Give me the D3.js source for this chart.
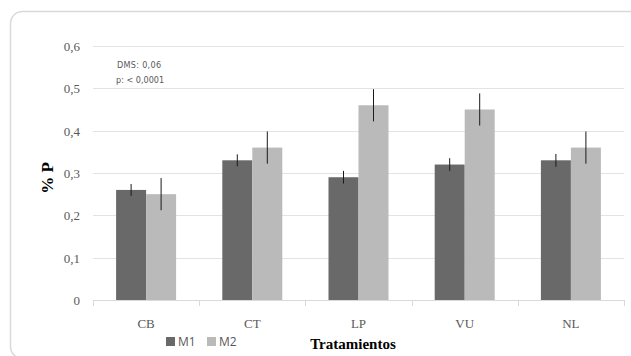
<!DOCTYPE html>
<html>
<head>
<meta charset="utf-8">
<script src="https://cdn.jsdelivr.net/npm/d3@7"></script>
<style>
  body { margin: 0; background: #fff; }
  svg { display: block; }
</style>
</head>
<body>
<svg id="chart" width="631" height="356"></svg>
<script>
var categories = ['CB', 'CT', 'LP', 'VU', 'NL']
var seriesNames = ['M1', 'M2']
var m1Values = [0.26, 0.33, 0.29, 0.32, 0.33]
var m2Values = [0.25, 0.36, 0.46, 0.45, 0.36]
var m1Errors = [0.014, 0.014, 0.015, 0.015, 0.015]
var m2Errors = [0.038, 0.038, 0.038, 0.038, 0.038]
var yTicks = [0, 0.1, 0.2, 0.3, 0.4, 0.5, 0.6]

var colors = { M1: '#696969', M2: '#bababa' }

var svg = d3.select('#chart')

// outer rounded frame (runs off the right and bottom edges)
svg.append('rect')
    .attr('x', 10.5).attr('y', 11.5)
    .attr('width', 640).attr('height', 347)
    .attr('rx', 12)
    .attr('fill', '#fff')
    .attr('stroke', '#d9d9d9')
    .attr('stroke-width', 1.5)

var plotLeft = 93, plotRight = 624, plotTop = 46, plotBottom = 300

var x = d3.scaleBand().domain(categories).range([plotLeft, plotRight])
var xInner = d3.scaleBand().domain(seriesNames).range([0, 60])
var y = d3.scaleLinear().domain([0, 0.6]).range([plotBottom, plotTop])

// gridlines
svg.selectAll('.grid')
    .data(yTicks.filter(d => d > 0))
    .join('line')
    .attr('x1', plotLeft).attr('x2', plotRight)
    .attr('y1', d => Math.round(y(d)) + 0.5)
    .attr('y2', d => Math.round(y(d)) + 0.5)
    .attr('stroke', '#e3e3e3')
    .attr('stroke-width', 1)

// y labels
svg.selectAll('.ylab')
    .data(yTicks)
    .join('text')
    .attr('x', 80)
    .attr('y', d => y(d) + 5)
    .attr('text-anchor', 'end')
    .attr('font-family', 'Liberation Serif')
    .attr('font-size', 13)
    .attr('fill', '#595959')
    .text(d => d === 0 ? '0' : d.toFixed(1).replace('.', ','))

// bars
var rows = []
categories.forEach((c, i) => {
    rows.push({ cat: c, s: 'M1', v: m1Values[i], e: m1Errors[i] })
    rows.push({ cat: c, s: 'M2', v: m2Values[i], e: m2Errors[i] })
})

var off = (x.bandwidth() - 60) / 2

svg.selectAll('.bar')
    .data(rows)
    .join('rect')
    .attr('x', d => x(d.cat) + off + xInner(d.s))
    .attr('y', d => y(d.v))
    .attr('width', xInner.bandwidth())
    .attr('height', d => plotBottom - y(d.v))
    .attr('fill', d => colors[d.s])

// error bars
svg.selectAll('.err')
    .data(rows)
    .join('line')
    .attr('x1', d => x(d.cat) + off + xInner(d.s) + xInner.bandwidth() / 2)
    .attr('x2', d => x(d.cat) + off + xInner(d.s) + xInner.bandwidth() / 2)
    .attr('y1', d => y(d.v + d.e))
    .attr('y2', d => y(d.v - d.e))
    .attr('stroke', '#1a1a1a')
    .attr('stroke-width', 1)

// x axis line and ticks
svg.append('line')
    .attr('x1', plotLeft).attr('x2', plotRight)
    .attr('y1', plotBottom + 0.5).attr('y2', plotBottom + 0.5)
    .attr('stroke', '#d9d9d9')

svg.selectAll('.xtick')
    .data(categories.concat(['end']))
    .join('line')
    .attr('x1', (d, i) => Math.round(plotLeft + i * x.step()) + 0.5)
    .attr('x2', (d, i) => Math.round(plotLeft + i * x.step()) + 0.5)
    .attr('y1', plotBottom).attr('y2', plotBottom + 6)
    .attr('stroke', '#d9d9d9')

svg.selectAll('.xlab')
    .data(categories)
    .join('text')
    .attr('x', d => x(d) + x.bandwidth() / 2)
    .attr('y', 328)
    .attr('text-anchor', 'middle')
    .attr('font-family', 'Liberation Serif')
    .attr('font-size', 13)
    .attr('fill', '#595959')
    .text(d => d)

// axis titles
svg.append('text')
    .attr('transform', 'translate(53,178) rotate(-90)')
    .attr('text-anchor', 'middle')
    .attr('font-family', 'Liberation Serif')
    .attr('font-weight', 'bold')
    .attr('font-size', 17)
    .attr('fill', '#000')
    .text('% P')

svg.append('text')
    .attr('x', 353).attr('y', 349)
    .attr('text-anchor', 'middle')
    .attr('font-family', 'Liberation Serif')
    .attr('font-weight', 'bold')
    .attr('font-size', 15)
    .attr('fill', '#000')
    .text('Tratamientos')

// annotation
svg.append('text')
    .attr('x', 117).attr('y', 68)
    .attr('font-family', 'DejaVu Sans Condensed, DejaVu Sans')
    .attr('font-size', 9)
    .attr('letter-spacing', 0.3)
    .attr('fill', '#595959')
    .text('DMS: 0,06')
svg.append('text')
    .attr('x', 116).attr('y', 83)
    .attr('font-family', 'DejaVu Sans Condensed, DejaVu Sans')
    .attr('font-size', 9)
    .attr('fill', '#595959')
    .text('p: < 0,0001')

// legend
var legend = svg.selectAll('.leg')
    .data(seriesNames)
    .join('g')
    .attr('transform', (d, i) => 'translate(' + (166 + i * 41) + ',337)')
legend.append('rect')
    .attr('width', 9).attr('height', 9)
    .attr('fill', d => colors[d])
legend.append('text')
    .attr('x', 12).attr('y', 9)
    .attr('font-family', 'Open Sans')
    .attr('font-size', 12)
    .attr('fill', '#595959')
    .text(d => d)
</script>
</body>
</html>
